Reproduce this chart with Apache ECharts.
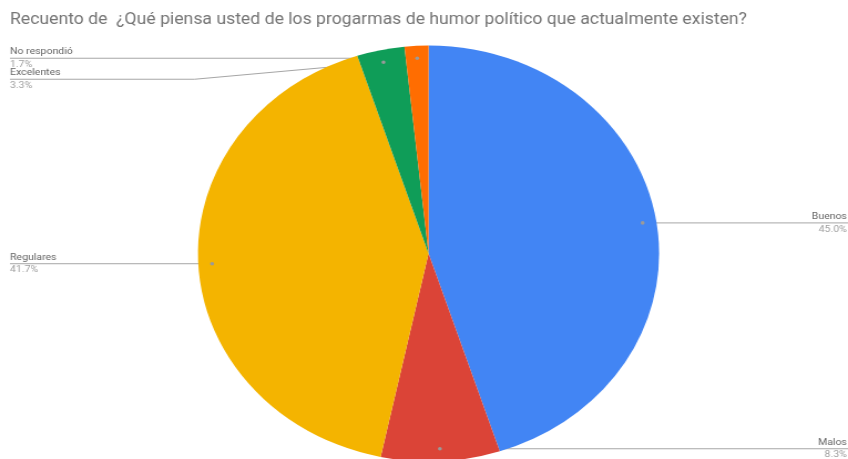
<!DOCTYPE html>
<html>
<head>
<meta charset="utf-8">
<script src="https://cdn.jsdelivr.net/npm/echarts@6/dist/echarts.min.js"></script>
<style>
  html, body { margin: 0; padding: 0; background: #fff; overflow: hidden; }
  #wrap { width: 848px; height: 459px; overflow: hidden; }
  #chart { width: 765px; height: 459px; transform: scaleX(1.1085); transform-origin: 0 0; }
</style>
</head>
<body>
<div id="wrap"><div id="chart"></div></div>
<script>
// Survey answers and their counts
const categories = ['Buenos', 'Malos', 'Regulares', 'Excelentes', 'No respondió'];
const counts = [27, 5, 25, 2, 1];
const colors = ['#4285F4', '#DB4437', '#F4B400', '#0F9D58', '#FF6D01'];
const titleText = 'Recuento de  ¿Qué piensa usted de los progarmas de humor político que actualmente existen?';

// Layout (in the chart's own pixel space, before horizontal stretch)
const W = 765;
const CX = 386.6, CY = 253.5, R = 208;
const DOT_R = 0.94;     // where the leader line starts inside the slice
const GAP = 21;         // minimum vertical spacing between stacked labels
const EDGE_L = 9, EDGE_R = W;

const total = counts.reduce((a, b) => a + b, 0);
const pct = counts.map(v => (v / total * 100).toFixed(1) + '%');

// Leader-line geometry for every slice, derived from its mid angle
const guides = (function () {
  let cum = 0;
  const g = counts.map((v, i) => {
    const mid = (cum + v / 2) / total * Math.PI * 2;
    cum += v;
    const dx = Math.sin(mid), dy = -Math.cos(mid);
    return {
      i, right: dx >= 0,
      dotX: CX + dx * R * DOT_R, dotY: CY + dy * R * DOT_R
    };
  });
  [true, false].forEach(side => {
    const list = g.filter(o => o.right === side).sort((a, b) => a.dotY - b.dotY);
    let last = -Infinity;
    list.forEach(o => {
      o.labelY = Math.max(o.dotY, last + GAP);
      last = o.labelY;
    });
  });
  g.forEach(o => {
    o.bendX = o.labelY === o.dotY ? o.dotX : (o.right ? CX + R + 3 : CX - R - 3);
  });
  return g;
})();

const chart = echarts.init(document.getElementById('chart'), null, { renderer: 'canvas' });
chart.setOption({
  animation: false,
  backgroundColor: '#fff',
  title: {
    text: titleText,
    left: 9, top: 12,
    padding: 0,
    textStyle: { fontFamily: 'Roboto', fontSize: 15.9, fontWeight: 'normal', color: '#757575' }
  },
  series: [{
    type: 'pie',
    center: [CX, CY],
    radius: R,
    startAngle: 90,
    clockwise: true,
    avoidLabelOverlap: false,
    data: categories.map((name, i) => ({ name, value: counts[i], itemStyle: { color: colors[i] } })),
    label: {
      show: true,
      position: 'outside',
      formatter: p => '{n|' + p.name + '}\n{p|' + pct[p.dataIndex] + '}',
      rich: {
        n: { fontFamily: 'Roboto', fontSize: 9.5, color: '#666666', lineHeight: 12.5 },
        p: { fontFamily: 'Roboto', fontSize: 9.5, color: '#A0A0A0', lineHeight: 12.5 }
      }
    },
    labelLine: { show: true, length: 5, length2: 5, lineStyle: { color: '#A6A6A6', width: 1 } },
    labelLayout: function (params) {
      const g = guides[params.dataIndex];
      return {
        x: g.right ? EDGE_R - 1 : EDGE_L,
        y: g.labelY,
        align: g.right ? 'right' : 'left',
        verticalAlign: 'middle',
        labelLinePoints: [[g.dotX, g.dotY], [g.bendX, g.labelY], [g.right ? EDGE_R : EDGE_L, g.labelY]]
      };
    },
    emphasis: { disabled: true }
  }, {
    // small markers at the start of each leader line
    type: 'custom',
    coordinateSystem: 'none',
    silent: true,
    z: 10,
    data: categories.map((c, i) => i),
    renderItem: function (params, api) {
      const g = guides[api.value(0)];
      return {
        type: 'circle',
        shape: { cx: g.dotX, cy: g.dotY, r: 1.8 },
        style: { fill: '#9A9A9A' }
      };
    }
  }]
});
</script>
</body>
</html>
